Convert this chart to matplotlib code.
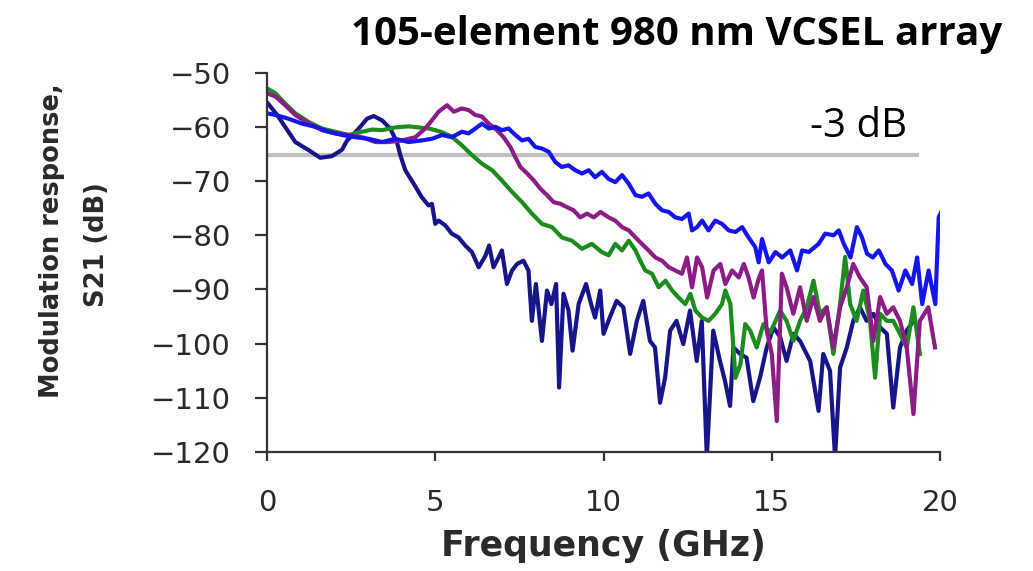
import matplotlib
matplotlib.use("Agg")
import matplotlib.pyplot as plt

# Measured S21 traces (frequency in GHz, response in dB)
navy_f = [0.03, 0.30, 0.54, 0.84, 1.24, 1.58, 1.93, 2.23, 2.38, 2.52, 2.77, 2.97, 3.17, 3.42,
          3.66, 3.86, 3.96, 4.11, 4.36, 4.60, 4.80, 4.90, 5.00, 5.10, 5.30, 5.49, 5.69, 5.89,
          6.09, 6.29, 6.49, 6.60, 6.73, 6.88, 6.98, 7.13, 7.28, 7.43, 7.62, 7.77, 7.87, 7.99,
          8.17, 8.32, 8.45, 8.59, 8.68, 8.81, 8.96, 9.08, 9.26, 9.48, 9.63, 9.75, 9.90, 10.00,
          10.19, 10.39, 10.59, 10.79, 10.99, 11.18, 11.38, 11.53, 11.68, 11.83, 11.98, 12.17,
          12.37, 12.57, 12.77, 12.92, 13.07, 13.26, 13.46, 13.61, 13.76, 13.86, 14.06, 14.25,
          14.45, 14.65, 14.85, 15.05, 15.25, 15.44, 15.64, 15.84, 16.14, 16.39, 16.53, 16.73,
          16.88, 17.03, 17.23, 17.42, 17.62, 17.82, 18.02, 18.22, 18.42, 18.61, 18.81, 19.01,
          19.21]
navy_db = [-55.7, -57.8, -60.0, -62.8, -64.3, -65.7, -65.4, -64.2, -62.5, -61.7, -60.0, -58.5,
           -58.0, -58.8, -60.3, -62.8, -65.2, -68.0, -70.5, -73.0, -74.5, -74.2, -77.9, -77.3,
           -78.2, -79.7, -80.4, -81.9, -83.1, -85.9, -83.8, -81.9, -85.9, -84.1, -82.8, -89.0,
           -86.5, -85.3, -84.7, -86.5, -95.8, -89.0, -99.5, -90.2, -92.7, -89.0, -108.1, -90.8,
           -93.9, -101.3, -92.7, -89.0, -92.7, -95.2, -90.2, -98.2, -95.1, -92.1, -93.3, -101.9,
           -95.8, -92.1, -99.5, -100.7, -110.9, -106.3, -97.6, -95.8, -100.1, -93.9, -103.2,
           -95.8, -121.0, -97.6, -103.2, -106.9, -111.5, -100.7, -101.9, -102.6, -110.6, -106.3,
           -100.7, -97.0, -98.8, -103.2, -98.2, -99.5, -103.2, -112.4, -101.9, -105.0, -121.0,
           -104.4, -100.7, -95.8, -93.3, -95.8, -94.5, -97.0, -98.2, -111.8, -100.7, -97.6,
           -95.8]

green_f = [0.00, 0.25, 0.54, 0.84, 1.24, 1.63, 2.03, 2.43, 2.82, 3.12, 3.42, 3.81, 4.21, 4.51,
           4.80, 5.00, 5.20, 5.49, 5.79, 6.09, 6.39, 6.69, 6.98, 7.28, 7.58, 7.87, 8.17, 8.47,
           8.76, 9.06, 9.36, 9.65, 9.95, 10.15, 10.35, 10.55, 10.75, 10.95, 11.09, 11.24, 11.44,
           11.64, 11.84, 12.04, 12.23, 12.43, 12.58, 12.73, 12.93, 13.12, 13.32, 13.52, 13.62,
           13.77, 13.92, 14.07, 14.21, 14.36, 14.55, 14.75, 14.95, 15.25, 15.44, 15.64, 15.84,
           16.04, 16.24, 16.43, 16.63, 16.83, 17.03, 17.18, 17.33, 17.52, 17.72, 17.92, 18.07,
           18.22, 18.42, 18.61, 18.81, 19.01, 19.21, 19.40]
green_db = [-52.9, -53.8, -55.7, -57.5, -59.1, -60.3, -60.9, -61.5, -60.9, -60.5, -60.6, -60.1,
            -59.9, -60.1, -60.3, -60.6, -61.0, -61.8, -63.4, -65.2, -66.8, -68.0, -69.9, -72.0,
            -73.9, -76.0, -77.9, -78.5, -80.4, -81.0, -82.5, -81.6, -83.1, -83.7, -81.6, -82.8,
            -81.0, -82.8, -84.7, -86.5, -87.1, -89.6, -88.4, -90.2, -91.5, -92.7, -90.8, -93.9,
            -95.2, -95.8, -94.5, -92.7, -90.2, -92.7, -106.3, -103.8, -96.4, -97.6, -100.7,
            -96.4, -98.0, -93.9, -95.8, -99.5, -95.8, -93.3, -88.4, -94.5, -93.3, -101.9, -92.7,
            -84.0, -92.7, -95.8, -90.2, -95.8, -106.3, -94.5, -95.8, -95.8, -98.2, -100.7, -93.3,
            -101.9]

purple_f = [0.00, 0.25, 0.54, 0.84, 1.24, 1.63, 2.03, 2.43, 2.82, 3.22, 3.61, 4.01, 4.41, 4.70,
            4.90, 5.10, 5.35, 5.55, 5.79, 5.99, 6.19, 6.39, 6.59, 6.83, 7.03, 7.23, 7.38, 7.53,
            7.73, 7.93, 8.12, 8.32, 8.52, 8.72, 8.91, 9.11, 9.31, 9.51, 9.71, 9.91, 10.15, 10.35,
            10.55, 10.75, 10.95, 11.14, 11.34, 11.54, 11.74, 11.94, 12.13, 12.33, 12.48, 12.63,
            12.78, 12.93, 13.08, 13.27, 13.47, 13.62, 13.82, 14.02, 14.17, 14.31, 14.46, 14.61,
            14.71, 14.85, 15.00, 15.15, 15.30, 15.44, 15.64, 15.84, 16.04, 16.24, 16.43, 16.63,
            16.83, 17.03, 17.23, 17.42, 17.62, 17.82, 18.02, 18.22, 18.42, 18.61, 18.81, 19.01,
            19.21, 19.40, 19.65, 19.85]
purple_db = [-53.8, -54.4, -56.0, -57.8, -59.4, -60.6, -61.2, -61.5, -61.9, -62.8, -62.8, -62.5,
             -61.9, -60.3, -58.8, -57.2, -56.0, -57.2, -56.6, -56.9, -57.8, -58.1, -59.4, -60.6,
             -61.9, -63.7, -65.6, -67.4, -68.6, -69.9, -71.4, -72.6, -73.9, -74.2, -74.8, -75.4,
             -76.7, -76.0, -76.7, -75.7, -76.7, -77.3, -78.5, -79.1, -80.4, -81.6, -82.8, -84.1,
             -84.7, -85.9, -86.5, -87.1, -84.1, -89.6, -84.1, -85.9, -91.5, -86.5, -85.3, -89.0,
             -86.5, -87.8, -85.3, -87.8, -91.5, -88.0, -86.5, -97.6, -101.9, -114.3, -87.1,
             -89.6, -94.5, -89.6, -95.8, -91.4, -95.8, -93.3, -100.7, -93.3, -89.6, -85.3, -87.8,
             -89.6, -99.5, -91.4, -94.5, -93.3, -95.8, -100.7, -113.0, -95.8, -93.3, -100.7]

blue_f = [0.00, 0.25, 0.64, 1.04, 1.44, 1.83, 2.23, 2.62, 3.02, 3.42, 3.81, 4.21, 4.60, 4.90,
          5.20, 5.49, 5.79, 5.99, 6.19, 6.39, 6.59, 6.79, 6.98, 7.18, 7.38, 7.58, 7.77, 7.97,
          8.17, 8.37, 8.57, 8.76, 8.96, 9.16, 9.36, 9.56, 9.75, 9.95, 10.15, 10.35, 10.55, 10.75,
          10.95, 11.14, 11.34, 11.54, 11.74, 11.94, 12.13, 12.33, 12.53, 12.63, 12.78, 12.93,
          13.12, 13.32, 13.52, 13.72, 13.92, 14.12, 14.31, 14.51, 14.61, 14.71, 14.91, 15.11,
          15.31, 15.55, 15.75, 15.90, 16.10, 16.39, 16.59, 16.84, 16.99, 17.14, 17.34, 17.53,
          17.68, 17.83, 18.00, 18.18, 18.38, 18.57, 18.77, 18.97, 19.17, 19.32, 19.47, 19.66,
          19.86, 19.96, 20.06, 20.10]
blue_db = [-57.5, -57.8, -58.5, -59.4, -60.0, -60.9, -61.5, -61.9, -62.2, -62.8, -62.2, -62.8,
           -62.5, -62.2, -61.5, -61.9, -60.9, -61.2, -60.3, -59.4, -60.3, -60.0, -60.6, -60.3,
           -61.5, -62.5, -62.2, -63.7, -64.0, -64.6, -66.5, -67.4, -67.1, -68.0, -68.6, -68.0,
           -69.3, -68.3, -69.6, -70.2, -68.9, -70.5, -72.6, -72.9, -72.3, -74.2, -75.4, -75.7,
           -76.7, -77.0, -76.0, -79.1, -78.5, -77.3, -79.1, -77.3, -77.9, -79.1, -79.4, -78.5,
           -80.4, -82.2, -85.0, -80.7, -85.0, -83.1, -84.1, -82.8, -86.5, -82.8, -83.1, -81.6,
           -79.7, -80.0, -79.1, -81.6, -84.1, -78.5, -80.4, -83.4, -84.1, -82.8, -85.3, -86.5,
           -90.2, -86.5, -89.0, -84.1, -92.7, -86.5, -92.7, -76.7, -75.4, -80.4]

# -3 dB reference level and its extent
ref_level_db = -65.2
ref_end_ghz = 19.37

x_ticks = [0, 5, 10, 15, 20]
y_ticks = [-50, -60, -70, -80, -90, -100, -110, -120]

series = [
    (navy_f, navy_db, "#16168a"),
    (green_f, green_db, "#1c8c1c"),
    (purple_f, purple_db, "#8c1c86"),
    (blue_f, blue_db, "#1515f0"),
]

fig = plt.figure(figsize=(10.33, 5.71), dpi=100)
ax = fig.add_axes([0.2585, 0.2084, 0.6515, 0.6643])

ax.hlines(ref_level_db, 0, ref_end_ghz, colors="#c0c0c0", linewidth=3.0, zorder=1)

for f, db, col in series:
    ax.plot(f, db, color=col, linewidth=3.0, solid_joinstyle="round", zorder=2)

ax.set_xlim(0, 20)
ax.set_ylim(-120, -50)
ax.set_xticks(x_ticks)
ax.set_yticks(y_ticks)
ax.set_yticklabels([f"\u2212{abs(v)}" for v in y_ticks])

for side in ("top", "right"):
    ax.spines[side].set_visible(False)
for side in ("left", "bottom"):
    ax.spines[side].set_color("#333333")
    ax.spines[side].set_linewidth(1.6)

ax.tick_params(axis="y", direction="out", length=9, width=1.6, color="#333333",
               labelsize=21, labelcolor="#2a2a2a", pad=17)
ax.tick_params(axis="x", direction="out", length=6.5, width=1.6, color="#333333",
               labelsize=21, labelcolor="#2a2a2a", pad=20)

ax.set_xlabel("Frequency (GHz)", fontsize=25, fontweight="bold", color="#2a2a2a", labelpad=9)

fig.text(0.050, 0.578, "Modulation response,", rotation=90, fontsize=18.5,
         fontweight="bold", color="#2a2a2a", ha="center", va="center")
fig.text(0.094, 0.572, "S21 (dB)", rotation=90, fontsize=18.5,
         fontweight="bold", color="#2a2a2a", ha="center", va="center")

fig.text(0.655, 0.940, "105-element 980 nm VCSEL array", fontsize=29,
         fontweight="bold", family="Open Sans", ha="center", va="center", color="black")
fig.text(0.831, 0.778, "-3 dB", fontsize=29, family="Open Sans",
         ha="center", va="center", color="black")

fig.savefig("out.png", dpi=100)
